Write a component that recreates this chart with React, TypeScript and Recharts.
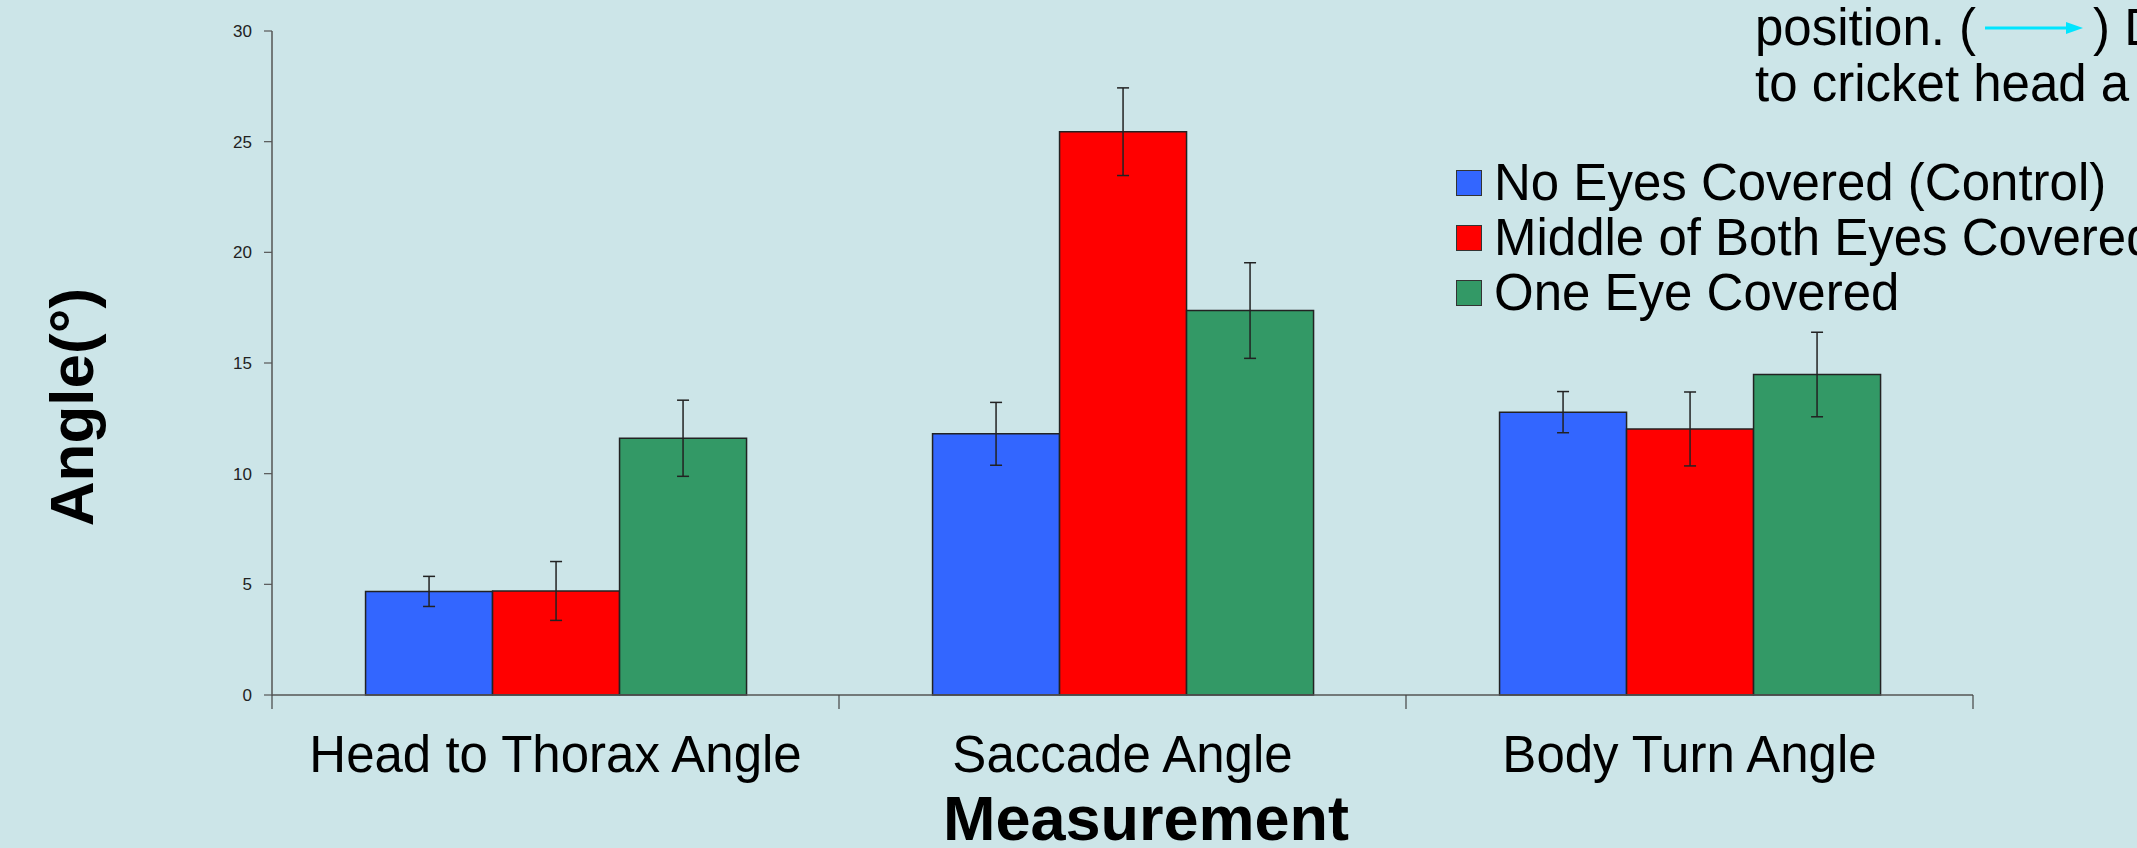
import { BarChart, Bar, XAxis, YAxis, ErrorBar, Legend } from 'recharts'

const categories = ['Head to Thorax Angle', 'Saccade Angle', 'Body Turn Angle']

const noEyesCovered = [4.68, 11.8, 12.78]
const noEyesCoveredErr = [0.68, 1.42, 0.93]

const middleCovered = [4.7, 25.45, 12.02]
const middleCoveredErr = [1.33, 1.98, 1.67]

const oneEyeCovered = [11.6, 17.37, 14.48]
const oneEyeCoveredErr = [1.72, 2.16, 1.91]

const yTicks = [0, 5, 10, 15, 20, 25, 30]

const series = [
  { key: 'noEyes', name: 'No Eyes Covered (Control)', color: '#3366FF' },
  { key: 'middle', name: 'Middle of Both Eyes Covered', color: '#FF0000' },
  { key: 'oneEye', name: 'One Eye Covered', color: '#339966' },
]

const chartData = categories.map((name, i) => ({
  name,
  noEyes: noEyesCovered[i],
  noEyesErr: noEyesCoveredErr[i],
  middle: middleCovered[i],
  middleErr: middleCoveredErr[i],
  oneEye: oneEyeCovered[i],
  oneEyeErr: oneEyeCoveredErr[i],
}))

const FONT = '"Liberation Sans", Arial, Helvetica, sans-serif'
const BG = '#CCE5E8'

// category label + the little tick marks that sit on the band edges
const CategoryTick = (props: any) => {
  const { x, y, payload, index, visibleTicksCount, width } = props
  const band = width && visibleTicksCount ? width / visibleTicksCount : 0
  return (
    <g>
      {band > 0 && (
        <line x1={x - band / 2} y1={y} x2={x - band / 2} y2={y + 14} stroke="#444" strokeWidth={1.2} />
      )}
      {band > 0 && index === visibleTicksCount - 1 && (
        <line x1={x + band / 2} y1={y} x2={x + band / 2} y2={y + 14} stroke="#444" strokeWidth={1.2} />
      )}
      <text x={x} y={y + 77} textAnchor="middle" fontSize={51} fontFamily={FONT} fill="#000">
        {payload.value}
      </text>
    </g>
  )
}

const LegendBox = () => (
  <div style={{ fontFamily: FONT }}>
    {series.map((s) => (
      <div key={s.key} style={{ display: 'flex', alignItems: 'center', height: 55 }}>
        <span
          style={{
            display: 'inline-block',
            flexShrink: 0,
            width: 24,
            height: 24,
            background: s.color,
            border: '1.5px solid #333',
            marginRight: 12,
          }}
        />
        <span style={{ fontSize: 51, lineHeight: '55px', color: '#000', whiteSpace: 'nowrap' }}>{s.name}</span>
      </div>
    ))}
  </div>
)

export default function App() {
  return (
    <div
      style={{
        position: 'absolute',
        left: 0,
        top: 0,
        width: 2137,
        height: 848,
        overflow: 'hidden',
        background: BG,
      }}
    >
      <BarChart
        width={2137}
        height={848}
        data={chartData}
        margin={{ top: 31, right: 164, bottom: 0, left: 212 }}
        barCategoryGap="16.5%"
        barGap={0}
      >
        <XAxis
          dataKey="name"
          height={153}
          axisLine={{ stroke: '#555', strokeWidth: 1.5 }}
          tickLine={false}
          tickSize={0}
          tickMargin={0}
          interval={0}
          tick={<CategoryTick />}
        />
        <YAxis
          width={60}
          domain={[0, 30]}
          ticks={yTicks}
          interval={0}
          axisLine={{ stroke: '#555', strokeWidth: 1.5 }}
          tickLine={{ stroke: '#555', strokeWidth: 1.2 }}
          tickSize={8}
          tickMargin={12}
          tick={{ fontSize: 17, fill: '#222', fontFamily: FONT }}
        />
        <Legend
          layout="vertical"
          align="center"
          verticalAlign="middle"
          content={<LegendBox />}
          wrapperStyle={{ top: 155, left: 1456, width: 700 }}
        />
        {series.map((s) => (
          <Bar key={s.key} dataKey={s.key} name={s.name} fill={s.color} stroke="#222" strokeWidth={1.5} isAnimationActive={false}>
            <ErrorBar dataKey={`${s.key}Err`} width={6} stroke="#222" strokeWidth={1.5} isAnimationActive={false} />
          </Bar>
        ))}
      </BarChart>

      {/* axis titles and the clipped caption in the top right corner */}
      <svg width={2137} height={848} style={{ position: 'absolute', left: 0, top: 0, pointerEvents: 'none' }}>
        <text
          x={93}
          y={407}
          transform="rotate(-90 93 407)"
          textAnchor="middle"
          fontSize={62}
          fontWeight="bold"
          fontFamily={FONT}
          fill="#000"
        >
          Angle(°)
        </text>
        <text x={1146} y={840} textAnchor="middle" fontSize={63} fontWeight="bold" fontFamily={FONT} fill="#000">
          Measurement
        </text>
        <text x={1755} y={45} fontSize={51} fontFamily={FONT} fill="#000">
          position. (
        </text>
        <line x1={1985} y1={28} x2={2070} y2={28} stroke="#00E5FF" strokeWidth={3} />
        <polygon points="2083,28 2066,22 2066,34" fill="#00E5FF" />
        <text x={2093} y={45} fontSize={51} fontFamily={FONT} fill="#000">
          ) D
        </text>
        <text x={1755} y={101} fontSize={51} fontFamily={FONT} fill="#000">
          to cricket head a
        </text>
      </svg>
    </div>
  )
}
